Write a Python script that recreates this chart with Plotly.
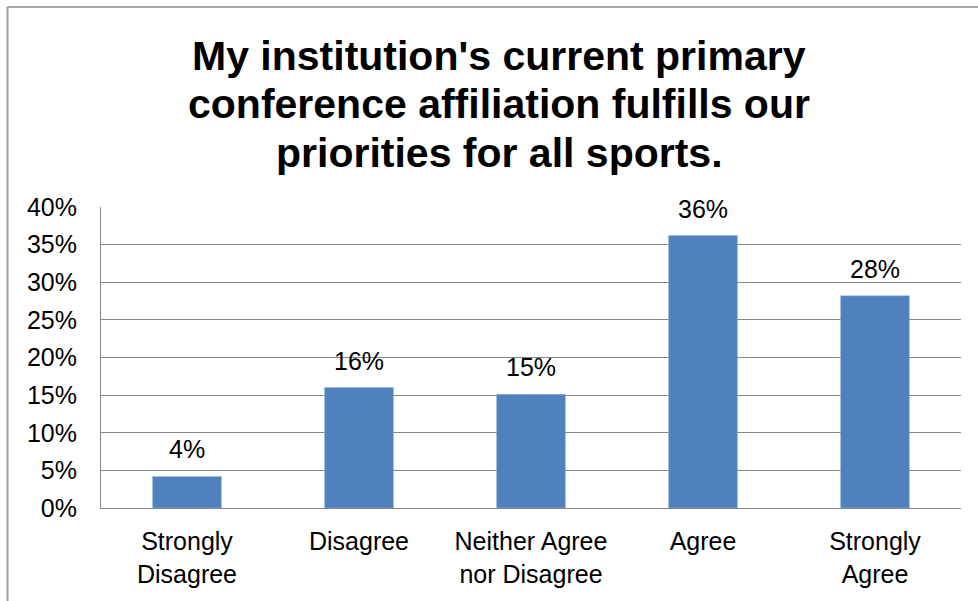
import plotly.graph_objects as go

categories = ["Strongly<br>Disagree", "Disagree", "Neither Agree<br>nor Disagree", "Agree", "Strongly<br>Agree"]
values = [0.042, 0.16, 0.151, 0.362, 0.282]
tick_vals = [0, 0.05, 0.10, 0.15, 0.20, 0.25, 0.30, 0.35, 0.40]
tick_text = ["0%", "5%", "10%", "15%", "20%", "25%", "30%", "35%", "40%"]
title_lines = ["My institution's current primary",
               "conference affiliation fulfills our",
               "priorities for all sports."]

FONT = "Liberation Sans, Arial, sans-serif"

fig = go.Figure()
fig.add_trace(go.Bar(
    x=categories, y=values,
    marker=dict(color="#4F81BD", line=dict(color="#8EB4E3", width=0.5)),
    width=0.4,
))

for c, v in zip(categories, values):
    fig.add_annotation(x=c, y=v, text=f"{round(v*100)}%", showarrow=False,
                       yanchor="bottom", yshift=11,
                       font=dict(family=FONT, size=25, color="black"))

L, R, T, B = 101, 17, 207, 93
W, H = 978, 601
pw, ph = W - L - R, H - T - B

def px_x(p):
    return (p - L) / pw

def px_y(p):
    return (H - B - p) / ph

title_y = [55.5, 104, 152.5]
for line, ty in zip(title_lines, title_y):
    fig.add_annotation(xref="paper", yref="paper", x=px_x(499), y=px_y(ty),
                       xanchor="center", yanchor="middle", showarrow=False,
                       text=f"<b>{line}</b>",
                       font=dict(family=FONT, size=41, color="black"))

fig.update_layout(
    width=W, height=H,
    margin=dict(l=L, r=R, t=T, b=B, pad=0),
    paper_bgcolor="white", plot_bgcolor="white",
    showlegend=False,
    xaxis=dict(showgrid=False, showline=True, linecolor="#868686", linewidth=1,
               ticks="", tickfont=dict(family=FONT, size=25, color="black"),
               ticklabelstandoff=11),
    yaxis=dict(range=[0, 0.40], tickvals=tick_vals, ticktext=tick_text,
               showgrid=True, gridcolor="#868686", gridwidth=1,
               showline=True, linecolor="#868686", linewidth=1,
               zeroline=False, ticks="",
               tickfont=dict(family=FONT, size=25, color="black"),
               ticklabelstandoff=18),
    shapes=[
        dict(type="line", xref="paper", yref="paper",
             x0=px_x(7.5), x1=px_x(7.5), y0=px_y(7), y1=px_y(620),
             line=dict(color="#A0A0A0", width=2)),
        dict(type="line", xref="paper", yref="paper",
             x0=px_x(7.5), x1=px_x(990), y0=px_y(7), y1=px_y(7),
             line=dict(color="#888888", width=1.5)),
    ],
)

fig.write_html("out.html", config={"displayModeBar": False},
               post_script="document.body.style.margin='0';document.body.style.overflow='hidden';")
